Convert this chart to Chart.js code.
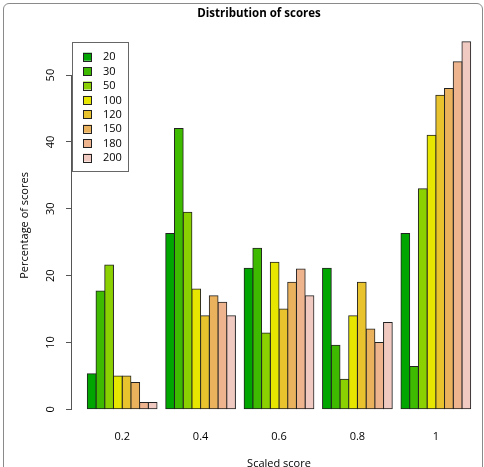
<!DOCTYPE html>
<html>
<head>
<meta charset="utf-8">
<script src="https://cdn.jsdelivr.net/npm/chart.js@4"></script>
<style>
  html, body { margin: 0; padding: 0; overflow: hidden; background: #fff; width: 484px; height: 467px; }
  #wrap { position: absolute; left: 0; top: 0; width: 490px; height: 500px; }
  #frame { position: absolute; left: 3px; top: 3px; width: 478px; height: 490px; border: 1px solid #8a8a8a; border-radius: 6px; pointer-events: none; }
</style>
</head>
<body>
<div id="wrap"><canvas id="chart" width="490" height="500"></canvas></div>
<div id="frame"></div>
<script>
// Данные
const scores = [0.2, 0.4, 0.6, 0.8, 1];
const scoreLabels = ['0.2', '0.4', '0.6', '0.8', '1'];
const yTicks = [0, 10, 20, 30, 40, 50];
const seriesNames = ['20', '30', '50', '100', '120', '150', '180', '200'];
const seriesColors = ['#00A600', '#3EBB00', '#8BD000', '#E6E600', '#E8C32E', '#EBB25E', '#EDB48E', '#F0C9C0'];

const s20  = [5.3, 26.3, 21.1, 21.1, 26.3];
const s30  = [17.7, 42, 24.1, 9.6, 6.4];
const s50  = [21.6, 29.5, 11.4, 4.5, 33];
const s100 = [5, 18, 22, 14, 41];
const s120 = [5, 14, 15, 19, 47];
const s150 = [4, 17, 19, 12, 48];
const s180 = [1, 16, 21, 10, 52];
const s200 = [1, 14, 17, 13, 55];
const seriesValues = [s20, s30, s50, s100, s120, s150, s180, s200];

const FONT = '"Open Sans", "DejaVu Sans", sans-serif';

// Заголовок, подписи оси Y (повернутые, как в R) и легенда в рамке
const decorPlugin = {
  id: 'decor',
  afterDraw: (chart) => {
    const ctx = chart.ctx;
    const y = chart.scales.y;
    const area = chart.chartArea;
    ctx.save();

    // заголовок
    ctx.fillStyle = '#000';
    ctx.font = 'bold 11.5px ' + FONT;
    ctx.textAlign = 'center';
    ctx.textBaseline = 'middle';
    ctx.fillText('Distribution of scores', 259, 14);

    // ось Y только от 0 до 50
    ctx.strokeStyle = '#555';
    ctx.lineWidth = 1;
    ctx.beginPath();
    ctx.moveTo(area.left - 0.5, y.getPixelForValue(yTicks[0]));
    ctx.lineTo(area.left - 0.5, y.getPixelForValue(yTicks[yTicks.length - 1]));
    ctx.stroke();

    // подписи делений Y
    ctx.font = '11px ' + FONT;
    yTicks.forEach(v => {
      ctx.save();
      ctx.translate(51, y.getPixelForValue(v));
      ctx.rotate(-Math.PI / 2);
      ctx.fillText(String(v), 0, 0);
      ctx.restore();
    });

    // легенда
    const lx = area.left;
    const ly = y.getPixelForValue(55);
    ctx.strokeStyle = '#666';
    ctx.strokeRect(lx + 0.5, Math.round(ly) + 0.5, 56, 129);
    ctx.textAlign = 'left';
    chart.data.datasets.forEach((ds, i) => {
      const cy = ly + 15 + i * 14.4;
      ctx.fillStyle = ds.backgroundColor;
      ctx.fillRect(lx + 11, cy - 4, 9, 8);
      ctx.strokeStyle = '#222';
      ctx.strokeRect(lx + 11.5, Math.round(cy - 4) + 0.5, 8, 8);
      ctx.fillStyle = '#000';
      ctx.fillText(ds.label, lx + 31, cy + 0.5);
    });
    ctx.restore();
  }
};

const datasets = seriesNames.map((name, i) => ({
  label: name,
  data: scores.map((s, j) => ({ x: s, y: seriesValues[i][j] })),
  backgroundColor: seriesColors[i],
  borderColor: '#222',
  borderWidth: 1,
  borderSkipped: false,
  inflateAmount: 0.5,
  categoryPercentage: 8 / 9,
  barPercentage: 1
}));

new Chart(document.getElementById('chart'), {
  type: 'bar',
  data: { datasets },
  options: {
    responsive: false,
    animation: false,
    devicePixelRatio: 1,
    layout: { padding: { top: 27, right: 4, left: 0, bottom: 0 } },
    plugins: {
      legend: { display: false },
      title: { display: false },
      tooltip: { enabled: false }
    },
    scales: {
      x: {
        type: 'linear',
        min: 0.072,
        max: 1.128,
        offset: false,
        grid: { display: false, drawTicks: false },
        border: { display: false },
        afterBuildTicks: (scale) => { scale.ticks = scores.map(v => ({ value: v })); },
        afterFit: (scale) => { scale.height = 76; },
        ticks: {
          padding: 6,
          color: '#000',
          font: { family: FONT, size: 11 },
          maxRotation: 0,
          callback: (value, index) => scoreLabels[index]
        },
        title: {
          display: true,
          text: 'Scaled score',
          color: '#000',
          font: { family: FONT, size: 11 },
          padding: { top: 4, bottom: 30 }
        }
      },
      y: {
        min: -2.2,
        max: 57.2,
        grid: { drawOnChartArea: false, drawTicks: true, tickLength: 6, color: '#555' },
        border: { display: false },
        afterBuildTicks: (scale) => { scale.ticks = yTicks.map(v => ({ value: v })); },
        afterFit: (scale) => { scale.width = 72; },
        ticks: { display: false },
        title: {
          display: true,
          text: 'Percentage of scores',
          color: '#000',
          font: { family: FONT, size: 11 },
          align: 'center',
          padding: { top: 18, bottom: 0 }
        }
      }
    }
  },
  plugins: [decorPlugin]
});
</script>
</body>
</html>
